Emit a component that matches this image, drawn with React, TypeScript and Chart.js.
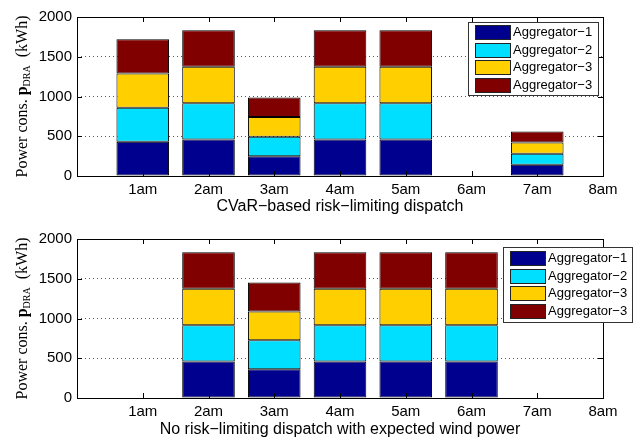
import React, { useEffect, useRef } from 'react';
import { Chart, registerables } from 'chart.js';

Chart.register(...registerables);

const hours = [1, 2, 3, 4, 5, 6, 7, 8];
const hourLabels = ['1am', '2am', '3am', '4am', '5am', '6am', '7am', '8am'];
const seriesNames = ['Aggregator−1', 'Aggregator−2', 'Aggregator−3', 'Aggregator−3'];
const seriesColors = ['#00008F', '#00DFFF', '#FFCF00', '#800000'];
const yTicks = [0, 500, 1000, 1500, 2000];

// Top panel: CVaR-based risk-limiting dispatch
const cvarAgg1 = [430, 458, 247, 458, 458, 0, 140, 0];
const cvarAgg2 = [430, 458, 247, 458, 458, 0, 140, 0];
const cvarAgg3 = [430, 458, 247, 458, 458, 0, 140, 0];
const cvarAgg4 = [430, 458, 247, 458, 458, 0, 140, 0];

// Bottom panel: no risk-limiting dispatch with expected wind power
const expAgg1 = [0, 458, 363, 458, 458, 458, 0, 0];
const expAgg2 = [0, 458, 363, 458, 458, 458, 0, 0];
const expAgg3 = [0, 458, 363, 458, 458, 458, 0, 0];
const expAgg4 = [0, 458, 363, 458, 458, 458, 0, 0];

const topTitle = 'CVaR−based risk−limiting dispatch';
const bottomTitle = 'No risk−limiting dispatch with expected wind power';

const SANS = '"Liberation Sans", Arial, Helvetica, sans-serif';
const SERIF = '"Liberation Serif", "Times New Roman", serif';

type PanelProps = {
  series: number[][];
  title: string;
  top: number;
  height: number;
  padTop: number;
  xHeight: number;
  titlePad: number;
  legend: { x: number; y: number; w: number; h: number; first: number };
};

function Panel(props: PanelProps) {
  const ref = useRef<HTMLCanvasElement>(null);

  useEffect(() => {
    const canvas = ref.current;
    if (!canvas) return;

    const framePlugin = {
      id: 'frameTicks',
      afterDatasetsDraw(chart: any) {
        const { ctx, chartArea, scales } = chart;
        const { left, right, top, bottom } = chartArea;
        const x = scales.x;
        const y = scales.y;
        ctx.save();
        ctx.strokeStyle = '#000';
        ctx.lineWidth = 1;
        ctx.setLineDash([]);
        ctx.beginPath();
        y.ticks.forEach((t: any) => {
          const py = Math.round(y.getPixelForValue(t.value)) + 0.5;
          ctx.moveTo(left, py);
          ctx.lineTo(left + 5, py);
          ctx.moveTo(right, py);
          ctx.lineTo(right - 5, py);
        });
        x.ticks.forEach((t: any) => {
          const px = Math.round(x.getPixelForValue(t.value)) + 0.5;
          ctx.moveTo(px, bottom);
          ctx.lineTo(px, bottom - 5);
          ctx.moveTo(px, top);
          ctx.lineTo(px, top + 5);
        });
        ctx.stroke();
        ctx.strokeRect(
          Math.round(left) + 0.5,
          Math.round(top) + 0.5,
          Math.round(right - left),
          Math.round(bottom - top)
        );
        ctx.restore();
      },
    };

    const yLabelPlugin = {
      id: 'yLabel',
      afterDraw(chart: any) {
        const { ctx, chartArea } = chart;
        const parts = [
          { t: 'Power cons. ', f: `16px ${SERIF}`, dy: 0 },
          { t: 'p', f: `bold 16px ${SERIF}`, dy: 0 },
          { t: 'DRA', f: `10px ${SERIF}`, dy: 4 },
          { t: '  (kWh)', f: `16px ${SERIF}`, dy: 0 },
        ];
        ctx.save();
        ctx.fillStyle = '#000';
        ctx.textBaseline = 'middle';
        ctx.textAlign = 'left';
        let total = 0;
        const widths = parts.map((p) => {
          ctx.font = p.f;
          const w = ctx.measureText(p.t).width;
          total += w;
          return w;
        });
        ctx.translate(23, (chartArea.top + chartArea.bottom) / 2);
        ctx.rotate(-Math.PI / 2);
        let cx = -total / 2;
        parts.forEach((p, i) => {
          ctx.font = p.f;
          ctx.fillText(p.t, cx, p.dy);
          cx += widths[i];
        });
        ctx.restore();
      },
    };

    const legendPlugin = {
      id: 'boxLegend',
      afterDraw(chart: any) {
        const { ctx } = chart;
        const L = props.legend;
        ctx.save();
        ctx.fillStyle = '#fff';
        ctx.fillRect(L.x, L.y, L.w, L.h);
        ctx.strokeStyle = '#333';
        ctx.lineWidth = 1;
        ctx.strokeRect(L.x + 0.5, L.y + 0.5, L.w, L.h);
        ctx.font = `13px ${SANS}`;
        ctx.textBaseline = 'middle';
        ctx.textAlign = 'left';
        seriesNames.forEach((name, i) => {
          const cy = L.y + L.first + i * 17.5;
          ctx.fillStyle = seriesColors[i];
          ctx.fillRect(L.x + 7, Math.round(cy - 7), 35, 14);
          ctx.strokeStyle = '#222';
          ctx.strokeRect(L.x + 7.5, Math.round(cy - 7) + 0.5, 35, 14);
          ctx.fillStyle = '#000';
          ctx.fillText(name, L.x + 45, cy + 0.5);
        });
        ctx.restore();
      },
    };

    const datasets = props.series.map((vals, si) => ({
      label: seriesNames[si],
      data: hours.map((h, i) => ({ x: h, y: vals[i] > 0 ? vals[i] : null })),
      backgroundColor: seriesColors[si],
      borderColor: '#000',
      borderWidth: 1,
      borderSkipped: false,
      barPercentage: 0.8,
      categoryPercentage: 1,
    }));

    const chart = new Chart(canvas, {
      type: 'bar',
      data: { datasets: datasets as any },
      options: {
        responsive: false,
        animation: false,
        devicePixelRatio: 1,
        layout: { padding: { top: props.padTop, right: 39, left: 0, bottom: 0 } },
        plugins: {
          legend: { display: false },
          tooltip: { enabled: false },
        },
        scales: {
          x: {
            type: 'linear',
            stacked: true,
            offset: false,
            min: 0,
            max: 8,
            grid: { display: false, drawTicks: false, offset: false },
            border: { display: false },
            ticks: {
              stepSize: 1,
              autoSkip: false,
              maxRotation: 0,
              padding: 5,
              color: '#000',
              font: { family: SANS, size: 15 },
              callback: (v: any) => {
                const idx = hours.indexOf(Number(v));
                return idx >= 0 ? hourLabels[idx] : '';
              },
            },
            title: {
              display: true,
              text: props.title,
              color: '#000',
              font: { family: SANS, size: 16, lineHeight: 1 },
              padding: { top: 0, bottom: props.titlePad },
            },
            afterFit: (scale: any) => {
              scale.height = props.xHeight;
            },
          } as any,
          y: {
            type: 'linear',
            stacked: true,
            min: 0,
            max: 2000,
            afterBuildTicks: (scale: any) => {
              scale.ticks = yTicks.map((v) => ({ value: v }));
            },
            grid: {
              drawTicks: false,
              lineWidth: 1,
              color: (c: any) =>
                c.tick && (c.tick.value === 0 || c.tick.value === 2000) ? 'rgba(0,0,0,0)' : '#555',
            },
            border: { display: false, dash: [1, 3] },
            ticks: {
              padding: 5,
              color: '#000',
              font: { family: SANS, size: 15 },
              callback: (v: any) => String(v),
            },
            afterFit: (scale: any) => {
              scale.width = 77;
            },
          } as any,
        },
      },
      plugins: [framePlugin, yLabelPlugin, legendPlugin],
    });

    return () => chart.destroy();
  }, []);

  return (
    <canvas
      ref={ref}
      width={642}
      height={props.height}
      style={{ position: 'absolute', left: 0, top: props.top, display: 'block' }}
    />
  );
}

export default function App() {
  return (
    <div
      style={{
        position: 'absolute',
        left: 0,
        top: 0,
        width: 642,
        height: 439,
        background: '#fff',
        overflow: 'hidden',
      }}
    >
      <Panel
        series={[cvarAgg1, cvarAgg2, cvarAgg3, cvarAgg4]}
        title={topTitle}
        top={0}
        height={220}
        padTop={17}
        xHeight={44}
        titlePad={5}
        legend={{ x: 468, y: 22, w: 130, h: 73, first: 10 }}
      />
      <Panel
        series={[expAgg1, expAgg2, expAgg3, expAgg4]}
        title={bottomTitle}
        top={220}
        height={219}
        padTop={19}
        xHeight={41}
        titlePad={1}
        legend={{ x: 503, y: 27, w: 129, h: 75, first: 11 }}
      />
    </div>
  );
}
